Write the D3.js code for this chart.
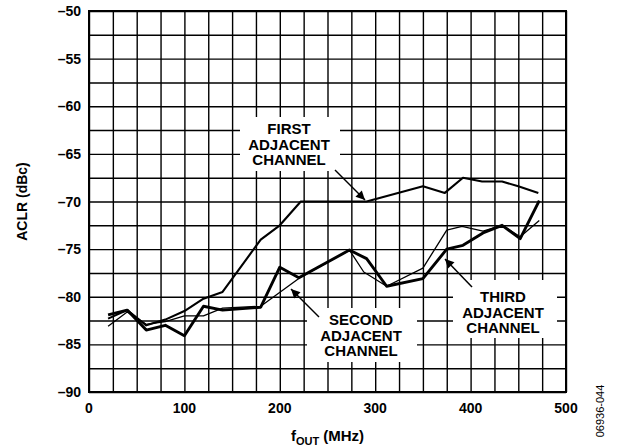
<!DOCTYPE html>
<html><head><meta charset="utf-8">
<script src="https://cdn.jsdelivr.net/npm/d3@7/dist/d3.min.js"></script>
<style>
body{margin:0;background:#fff;}
svg{display:block;font-family:Arial,"Liberation Sans",Helvetica,sans-serif;}
</style></head><body>
<svg id="chart" width="620" height="448"></svg>
<script>
// ---- data ----
const firstFreq  = [20,40,60,80,100,120,140,180,200,222,291,350,373,392,412,433,450,471];
const firstACLR  = [-82.3,-81.4,-83.0,-82.4,-81.5,-80.2,-79.5,-74.0,-72.5,-70.0,-70.0,-68.4,-69.1,-67.5,-67.9,-67.9,-68.4,-69.1];
const secondFreq = [20,40,60,80,100,120,140,180,221,273,288,312,350,375,391,413,433,452,472];
const secondACLR = [-83.1,-81.6,-82.9,-82.6,-82.0,-82.0,-81.2,-81.0,-78.0,-75.1,-77.4,-78.9,-77.0,-73.0,-72.6,-73.1,-72.5,-73.7,-72.0];
const thirdFreq  = [20,40,60,80,100,120,140,180,200,220,273,291,312,350,375,392,413,433,452,472];
const thirdACLR  = [-81.9,-81.4,-83.5,-83.0,-84.1,-81.0,-81.4,-81.1,-76.9,-78.0,-75.1,-76.0,-78.9,-78.1,-75.0,-74.6,-73.3,-72.5,-73.9,-69.9];
const xTickLabels = [0,100,200,300,400,500];
const yTickLabels = [-90,-85,-80,-75,-70,-65,-60,-55,-50];
const xTitle = "f", xTitleSub = "OUT", xTitleUnit = " (MHz)";
const yTitle = "ACLR (dBc)";
const figId = "06936-044";
const labelFirst  = ["FIRST","ADJACENT","CHANNEL"];
const labelSecond = ["SECOND","ADJACENT","CHANNEL"];
const labelThird  = ["THIRD","ADJACENT","CHANNEL"];

// ---- layout ----
const L = 89, R = 566, T = 11, B = 392;
const svg = d3.select("#chart");
const x = d3.scaleLinear().domain([0,500]).range([L,R]);
const y = d3.scaleLinear().domain([-90,-50]).range([B,T]);

// grid
const xGrid = d3.range(0,501,25), yGrid = d3.range(-90,-49,2.5);
svg.append("g").attr("transform",`translate(0,${B})`)
  .call(d3.axisBottom(x).tickValues(xGrid).tickSize(-(B-T)).tickFormat(""))
  .call(g=>g.select(".domain").remove())
  .call(g=>g.selectAll("line").attr("stroke","#000").attr("stroke-width",1.4));
svg.append("g").attr("transform",`translate(${L},0)`)
  .call(d3.axisLeft(y).tickValues(yGrid).tickSize(-(R-L)).tickFormat(""))
  .call(g=>g.select(".domain").remove())
  .call(g=>g.selectAll("line").attr("stroke","#000").attr("stroke-width",1.4));

// white label boxes
const boxes = [[240,117,100,54],[307,308,110,54],[453,280,104,58]];
svg.selectAll("rect.box").data(boxes).enter().append("rect")
  .attr("x",d=>d[0]).attr("y",d=>d[1]).attr("width",d=>d[2]).attr("height",d=>d[3])
  .attr("fill","#fff");

// frame
svg.append("rect").attr("x",L).attr("y",T).attr("width",R-L).attr("height",B-T)
  .attr("fill","none").attr("stroke","#000").attr("stroke-width",2);

// series
const line = d3.line().x(d=>x(d[0])).y(d=>y(d[1]));
const series = [
  {f:secondFreq,v:secondACLR,w:1.3},
  {f:firstFreq,v:firstACLR,w:2.1},
  {f:thirdFreq,v:thirdACLR,w:2.9}
];
series.forEach(s=>{
  svg.append("path").datum(s.f.map((f,i)=>[f,s.v[i]]))
    .attr("d",line).attr("fill","none").attr("stroke","#000")
    .attr("stroke-width",s.w).attr("stroke-linejoin","round");
});

// tick labels
svg.append("g").selectAll("text").data(xTickLabels).enter().append("text")
  .attr("x",d=>x(d)).attr("y",B+21).attr("text-anchor","middle")
  .attr("font-size",14).attr("font-weight","bold").text(d=>d);
svg.append("g").selectAll("text").data(yTickLabels).enter().append("text")
  .attr("x",L-8).attr("y",d=>y(d)+5).attr("text-anchor","end")
  .attr("font-size",14).attr("font-weight","bold").text(d=>"\u2013"+Math.abs(d));

// axis titles
const xt = svg.append("text").attr("x",(L+R)/2).attr("y",441).attr("text-anchor","middle")
  .attr("font-size",15).attr("font-weight","bold");
xt.append("tspan").text(xTitle);
xt.append("tspan").attr("font-size",11).attr("dy",4).text(xTitleSub);
xt.append("tspan").attr("dy",-4).text(xTitleUnit);
svg.append("text").attr("transform",`translate(27,${(T+B)/2}) rotate(-90)`)
  .attr("text-anchor","middle").attr("font-size",14).attr("font-weight","bold").text(yTitle);
svg.append("text").attr("transform",`translate(604,411) rotate(-90)`)
  .attr("text-anchor","middle").attr("font-size",11).text(figId);

// annotation labels
function label(lines, cx, y0){
  svg.append("g").selectAll("text").data(lines).enter().append("text")
    .attr("x",cx).attr("y",(d,i)=>y0+i*15.5).attr("text-anchor","middle")
    .attr("font-size",15).attr("font-weight","bold").text(d=>d);
}
label(labelFirst, 289, 134);
label(labelSecond, 361, 325);
label(labelThird, 503, 302);

// arrows
const defs = svg.append("defs");
defs.append("marker").attr("id","ah").attr("viewBox","0 0 10 10").attr("refX",10).attr("refY",5)
  .attr("markerWidth",14).attr("markerHeight",9).attr("markerUnits","userSpaceOnUse").attr("orient","auto")
  .append("path").attr("d","M0,0L10,5L0,10Z").attr("fill","#000");
const arrows = [[335,170,365,200],[319,317,291,289],[472,287,445,259]];
svg.selectAll("line.arr").data(arrows).enter().append("line")
  .attr("x1",d=>d[0]).attr("y1",d=>d[1]).attr("x2",d=>d[2]).attr("y2",d=>d[3])
  .attr("stroke","#000").attr("stroke-width",1.5).attr("marker-end","url(#ah)");
</script></body></html>
